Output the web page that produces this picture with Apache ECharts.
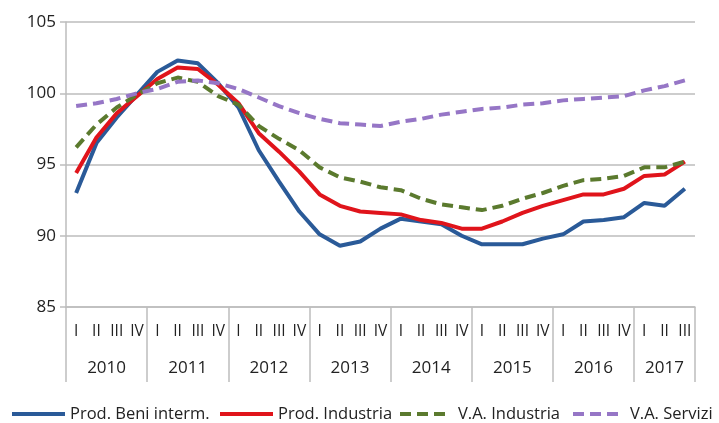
<!DOCTYPE html>
<html>
<head>
<meta charset="utf-8">
<script src="https://cdn.jsdelivr.net/npm/echarts@6/dist/echarts.min.js"></script>
<style>
  html, body { margin: 0; padding: 0; background: #fff; }
  #chart { width: 719px; height: 423px; }
</style>
</head>
<body>
<div id="chart"></div>
<script>
// trimestri 2010 I - 2017 III
const quarters = [
  'I','II','III','IV','I','II','III','IV','I','II','III','IV','I','II','III','IV',
  'I','II','III','IV','I','II','III','IV','I','II','III','IV','I','II','III'
];
const years = ['2010','2011','2012','2013','2014','2015','2016','2017'];
// posizione dei separatori d'anno e del centro delle etichette (in trimestri)
const yearBounds = [0, 4, 8, 12, 16, 20, 24, 28, 31];
const yearCenters = [2, 6, 10, 14, 18, 22, 26, 29.5];

const beniInterm = [93.0, 96.5, 98.3, 99.9, 101.5, 102.3, 102.1, 100.7, 99.0, 96.0, 93.8, 91.7,
  90.1, 89.3, 89.6, 90.5, 91.2, 91.0, 90.8, 90.0, 89.4, 89.4, 89.4, 89.8, 90.1, 91.0, 91.1, 91.3,
  92.3, 92.1, 93.3];
const prodIndustria = [94.4, 96.9, 98.6, 99.8, 101.0, 101.8, 101.7, 100.6, 99.3, 97.2, 95.9, 94.5,
  92.9, 92.1, 91.7, 91.6, 91.5, 91.1, 90.9, 90.5, 90.5, 91.0, 91.6, 92.1, 92.5, 92.9, 92.9, 93.3,
  94.2, 94.3, 95.2];
const vaIndustria = [96.2, 97.8, 99.0, 99.9, 100.7, 101.1, 100.8, 99.8, 99.2, 97.7, 96.8, 96.0,
  94.8, 94.1, 93.8, 93.4, 93.2, 92.6, 92.2, 92.0, 91.8, 92.1, 92.6, 93.0, 93.5, 93.9, 94.0, 94.2,
  94.8, 94.8, 95.2];
const vaServizi = [99.1, 99.3, 99.6, 100.0, 100.3, 100.8, 100.9, 100.7, 100.3, 99.7, 99.1, 98.6,
  98.2, 97.9, 97.8, 97.7, 98.0, 98.2, 98.5, 98.7, 98.9, 99.0, 99.2, 99.3, 99.5, 99.6, 99.7, 99.8,
  100.2, 100.5, 100.9];

const names = ['Prod. Beni interm.', 'Prod. Industria', 'V.A. Industria', 'V.A. Servizi'];
const colors = ['#2A5A98', '#E0141B', '#5B7A2E', '#9676C6'];

let chart = echarts.init(document.getElementById('chart'));
const font = 'Open Sans';
const gridColor = '#BDBDBD';

function makeSeries(i, data, dashed){
    return {
        name: names[i],
        type: 'line',
        data: data,
        symbol: 'none',
        xAxisIndex: 0,
        lineStyle: { color: colors[i], width: 4, type: dashed ? [11, 6] : 'solid' },
        itemStyle: { color: colors[i] },
        emphasis: { disabled: true }
    };
}

//una legenda per voce, per posizionarle a mano
const dashIcon = 'path://M0,0h11v4h-11z M17,0h11v4h-11z M34,0h11v4h-11z';
const legendLeft = [12, 220, 400, 573];
const legendWidth = [53, 53, 45, 45];
const legendPad = [0, 0, 8, 7];
let legends = [];
for(let i = 0; i < 4; i++){
    legends.push({
        data: [{ name: names[i], icon: i < 2 ? 'rect' : dashIcon }],
        left: legendLeft[i],
        top: 405,
        padding: 0,
        itemWidth: legendWidth[i],
        itemHeight: 4,
        itemGap: 0,
        itemStyle: { color: colors[i], borderWidth: 0 },
        textStyle: { fontFamily: font, fontSize: 16.5, lineHeight: 18, color: '#222',
            padding: [0, 0, 0, legendPad[i]] },
        selectedMode: false
    });
}

let option = {
    animation: false,
    grid: { left: 66, right: 24, top: 22, bottom: 116 },
    legend: legends,
    xAxis: [
        {
            type: 'category',
            data: quarters,
            boundaryGap: true,
            axisLine: { lineStyle: { color: gridColor, width: 1.5 } },
            axisTick: { interval: 0, length: 38, lineStyle: { color: gridColor, width: 1.5 } },
            axisLabel: { interval: 0, margin: 17, fontFamily: font, fontSize: 15.5, color: '#222' },
            splitLine: { show: false }
        },
        {
            type: 'value',
            min: 0,
            max: 31,
            position: 'bottom',
            axisLine: { show: false },
            axisTick: { show: true, length: 75, customValues: yearBounds,
                lineStyle: { color: gridColor, width: 1.5 } },
            axisLabel: {
                customValues: yearCenters,
                margin: 53,
                fontFamily: font, fontSize: 17, color: '#222',
                formatter: function(v){
                    let idx = yearCenters.indexOf(v);
                    return idx >= 0 ? years[idx] : '';
                }
            },
            splitLine: { show: false }
        }
    ],
    yAxis: {
        type: 'value',
        min: 85,
        max: 105,
        interval: 5,
        axisLine: { show: true, lineStyle: { color: gridColor, width: 1.5 } },
        axisTick: { show: true, length: 6, lineStyle: { color: gridColor, width: 1.5 } },
        axisLabel: { margin: 10, fontFamily: font, fontSize: 17, color: '#222' },
        splitLine: { lineStyle: { color: gridColor, width: 1.5 } }
    },
    series: [
        makeSeries(0, beniInterm, false),
        makeSeries(1, prodIndustria, false),
        makeSeries(2, vaIndustria, true),
        makeSeries(3, vaServizi, true)
    ]
};
chart.setOption(option);
</script>
</body>
</html>
